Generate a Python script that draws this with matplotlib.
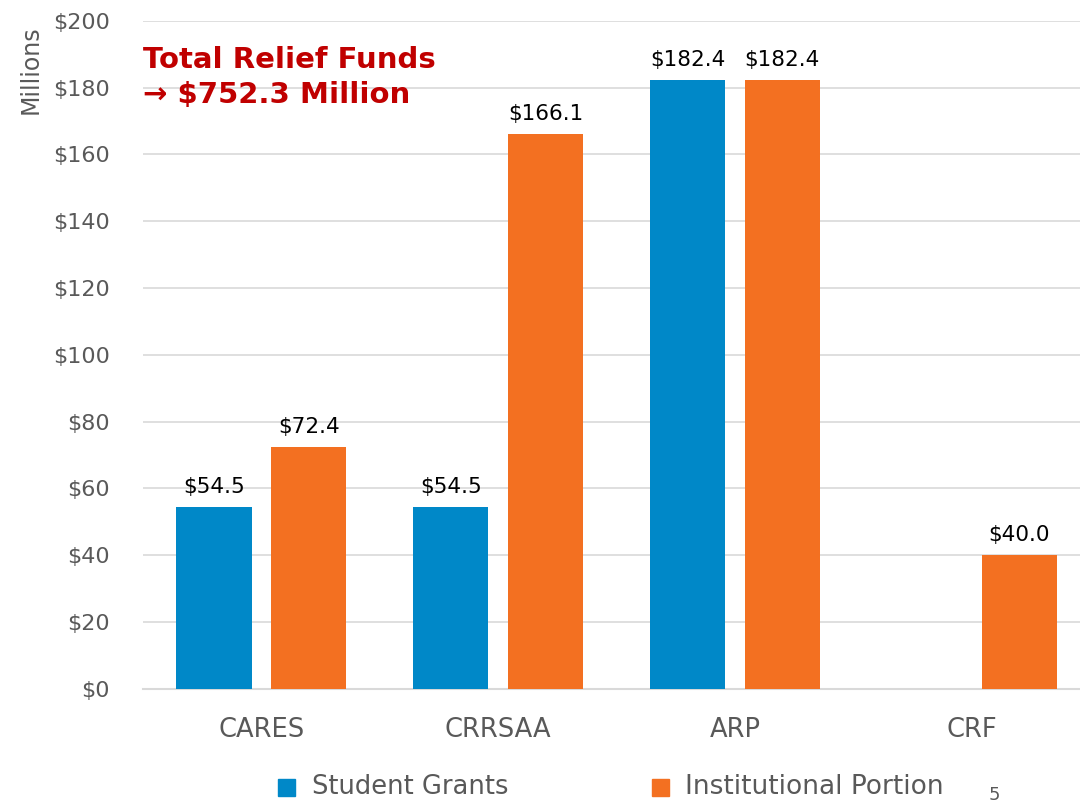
import numpy as np
import matplotlib.pyplot as plt

plt.rcParams["font.family"] = ["DejaVu Sans"]

CATEGORIES = ["CARES", "CRRSAA", "ARP", "CRF"]
STUDENT = [54.5, 54.5, 182.4, None]
INSTITUTIONAL = [72.4, 166.1, 182.4, 40.0]
Y_TICKS = [0, 20, 40, 60, 80, 100, 120, 140, 160, 180, 200]

BLUE = "#0088c8"
ORANGE = "#f37021"
GREY = "#595959"


def main():
    fig = plt.figure(figsize=(10.8, 8.02), dpi=100)
    ax = fig.add_axes([0.1324, 0.141, 0.877, 0.833])

    x = np.arange(len(CATEGORIES))
    width = 0.317
    off = 0.2
    for i, (s, v) in enumerate(zip(STUDENT, INSTITUTIONAL)):
        if s is not None:
            ax.bar(x[i] - off, s, width, color=BLUE, zorder=3)
            ax.text(x[i] - off, s + 3, f"${s:.1f}", ha="center", va="bottom",
                    fontsize=15.5, color="black")
        ax.bar(x[i] + off, v, width, color=ORANGE, zorder=3)
        ax.text(x[i] + off, v + 3, f"${v:.1f}", ha="center", va="bottom",
                fontsize=15.5, color="black")

    ax.set_xlim(-0.5, len(CATEGORIES) - 0.5)
    ax.set_ylim(0, 200)
    ax.set_yticks(Y_TICKS)
    ax.set_yticklabels([f"${t}" for t in Y_TICKS], fontsize=16, color=GREY)
    ax.set_xticks(x)
    ax.set_xticklabels(CATEGORIES, fontsize=18.5, color=GREY)
    ax.tick_params(axis="y", length=0, pad=24)
    ax.tick_params(axis="x", length=0, pad=20)
    ax.grid(axis="y", color="#d9d9d9", lw=1.2, zorder=0)
    for side in ["top", "right", "left"]:
        ax.spines[side].set_visible(False)
    ax.spines["bottom"].set_color("#d9d9d9")
    ax.spines["bottom"].set_linewidth(1.5)

    fig.text(0.028, 0.913, "Millions", rotation=90, ha="center", va="center",
             fontsize=17, color=GREY)

    ax.text(0.0, 0.962, "Total Relief Funds\n\u2192 $752.3 Million",
            transform=ax.transAxes, ha="left", va="top", fontsize=21,
            fontweight="bold", color="#c00000", linespacing=1.3)

    # legend
    fig.patches.append(plt.Rectangle((0.2575, 0.0075), 0.0155, 0.021,
                                     transform=fig.transFigure, color=BLUE))
    fig.text(0.289, 0.019, "Student Grants", fontsize=18.5, color=GREY,
             va="center")
    fig.patches.append(plt.Rectangle((0.6035, 0.0075), 0.0155, 0.021,
                                     transform=fig.transFigure, color=ORANGE))
    fig.text(0.634, 0.019, "Institutional Portion", fontsize=19, color=GREY,
             va="center")
    fig.text(0.915, 0.009, "5", fontsize=13, color=GREY, va="center")

    fig.savefig("out.png", dpi=100)


if __name__ == "__main__":
    main()
